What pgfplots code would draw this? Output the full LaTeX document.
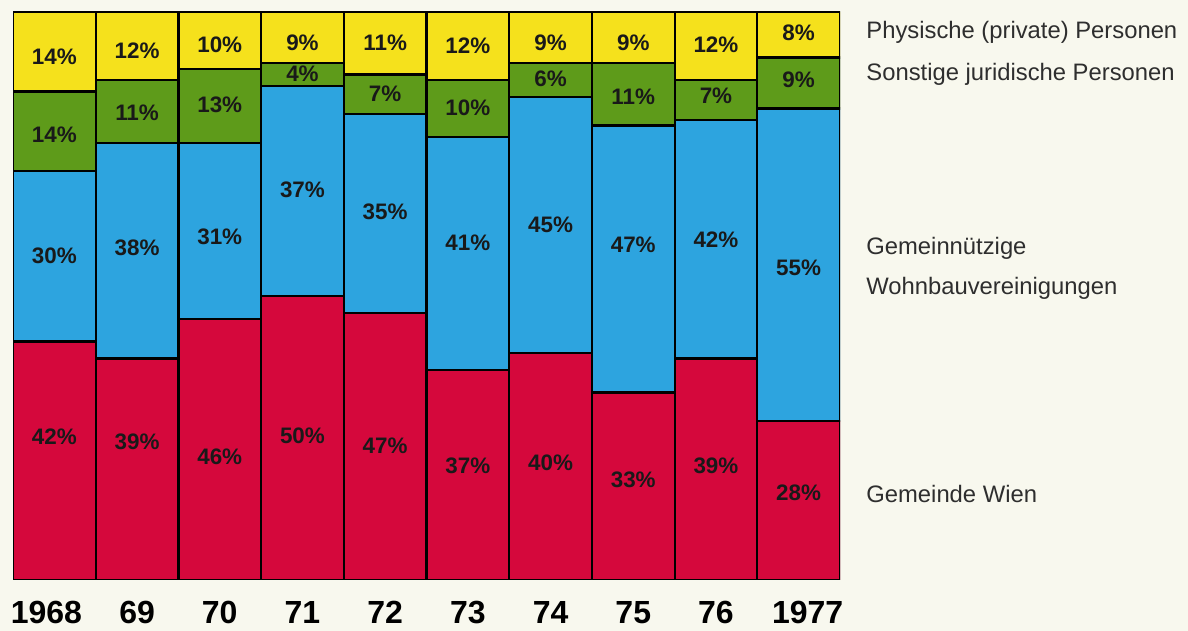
\documentclass[border=0pt]{standalone}
\usepackage{pgfplots}
\pgfplotsset{compat=1.18}
\usepackage{fontspec}
\setmainfont{Liberation Sans}
\definecolor{cyel}{HTML}{F5E11C}
\definecolor{cgrn}{HTML}{5E9B1A}
\definecolor{cblu}{HTML}{2DA4DF}
\definecolor{cred}{HTML}{D5083C}
\definecolor{cbg}{HTML}{F8F8EE}
\begin{document}
\begin{tikzpicture}[x=1pt,y=1pt]
\fill[cbg] (0,0) rectangle (594,315.5);
\path[use as bounding box] (0,0) rectangle (594,315.5);
\begin{axis}[
  at={(6.5pt,25.5pt)}, anchor=south west,
  scale only axis, width=413.5pt, height=284pt,
  ybar stacked, bar width=1,
  xmin=-0.5, xmax=9.5, ymin=0, ymax=100,
  xtick={0,...,9},
  xticklabels={\kern-8pt 1968,69,70,71,72,73,74,75,76,{\mbox{1977}\kern-9pt\relax}},
  major tick length=0pt,
  ytick=\empty,
  axis line style={draw=none},
  xticklabel style={font=\fontsize{16}{18}\selectfont\bfseries, inner sep=0pt, anchor=north, yshift=-10.5pt},
  every axis plot/.append style={draw=black, line width=1.1pt},
]
\addplot[fill=cred] coordinates {(0,42)(1,39)(2,46)(3,50)(4,47)(5,37)(6,40)(7,33)(8,39)(9,28)};
\addplot[fill=cblu] coordinates {(0,30)(1,38)(2,31)(3,37)(4,35)(5,41)(6,45)(7,47)(8,42)(9,55)};
\addplot[fill=cgrn] coordinates {(0,14)(1,11)(2,13)(3,4)(4,7)(5,10)(6,6)(7,11)(8,7)(9,9)};
\addplot[fill=cyel] coordinates {(0,14)(1,12)(2,10)(3,9)(4,11)(5,12)(6,9)(7,9)(8,12)(9,8)};
\end{axis}
\begin{axis}[
  at={(6.5pt,25.5pt)}, anchor=south west,
  scale only axis, width=413.5pt, height=284pt,
  xmin=-0.5, xmax=9.5, ymin=0, ymax=100,
  hide axis,
]
\addplot[draw=none, mark=none, nodes near coords, point meta=explicit symbolic,
  every node near coord/.append style={anchor=center, font=\fontsize{11.2}{13}\selectfont\bfseries, text=black!90}]
  table[meta=label] {
x y label
0 25.2 42\%
1 24.3 39\%
2 21.7 46\%
3 25.4 50\%
4 23.6 47\%
5 20.1 37\%
6 20.6 40\%
7 17.6 33\%
8 20.1 39\%
9 15.3 28\%
0 57.0 30\%
1 58.5 38\%
2 60.4 31\%
3 68.7 37\%
4 64.8 35\%
5 59.3 41\%
6 62.5 45\%
7 59.0 47\%
8 59.9 42\%
9 54.9 55\%
0 78.3 14\%
1 82.2 11\%
2 83.6 13\%
3 89.1 4\%
4 85.6 7\%
5 83.1 10\%
6 88.2 6\%
7 85.0 11\%
8 85.2 7\%
9 88.0 9\%
0 92.1 14\%
1 93.1 12\%
2 94.2 10\%
3 94.5 9\%
4 94.5 11\%
5 94.0 12\%
6 94.5 9\%
7 94.5 9\%
8 94.2 12\%
9 96.3 8\%
};
\end{axis}
\begin{scope}[every node/.style={anchor=west, inner sep=0pt, font=\fontsize{11.9}{14}\selectfont, text=black!82}]
\node at (433,299.5) {Physische (private) Personen};
\node at (433,278.5) {Sonstige juridische Personen};
\node at (433,191.5) {Gemeinnützige};
\node at (433,171.5) {Wohnbauvereinigungen};
\node at (433,68.5) {Gemeinde Wien};
\end{scope}
\end{tikzpicture}
\end{document}
